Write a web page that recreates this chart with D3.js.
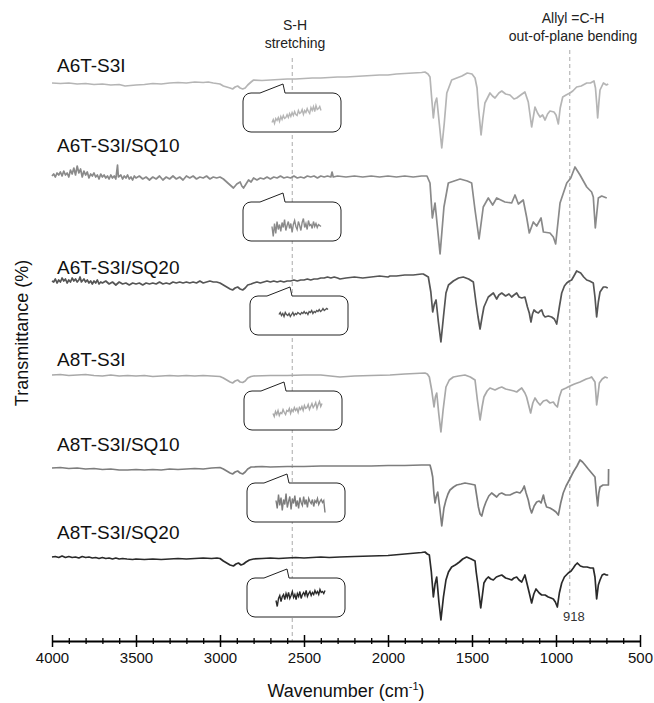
<!DOCTYPE html>
<html>
<head>
<meta charset="utf-8">
<script src="https://cdn.jsdelivr.net/npm/d3@7"></script>
<style>
  body { margin: 0; background: #fff; }
  text { font-family: "Liberation Sans", Arial, sans-serif; }
</style>
</head>
<body>
<div id="chart"></div>
<script>
// ---- data (wavenumber cm-1, relative transmittance) ----
var seriesNames = ["A6T-S3I", "A6T-S3I/SQ10", "A6T-S3I/SQ20", "A8T-S3I", "A8T-S3I/SQ10", "A8T-S3I/SQ20"];
var seriesColors = ["#b5b5b5", "#8a8a8a", "#555555", "#a9a9a9", "#7d7d7d", "#2a2a2a"];
// vertical stacking offsets of each spectrum
var seriesOffsets = [498, 406, 299, 206, 113, 24];

var a6t = [[4000,60],[3950,59.5],[3900,60],[3850,59],[3800,59.5],[3750,58.5],[3700,59],[3650,58],[3600,58.5],[3565,57],[3500,58],[3450,58.5],[3400,59.5],[3350,59],[3300,60],[3250,60.5],[3200,60],[3150,61],[3100,60.5],[3070,61],[3040,60],[3000,59],[2980,57],[2960,56],[2940,55],[2925,54],[2910,56],[2895,57],[2880,55],[2865,54],[2850,55],[2835,58],[2815,61],[2800,63],[2750,62.5],[2700,63],[2650,63.5],[2600,64],[2550,64],[2500,64.5],[2450,65],[2400,65],[2350,65.5],[2300,66],[2250,66],[2200,66.5],[2150,67],[2100,67.5],[2050,68],[2000,68],[1950,69],[1900,69.5],[1850,70],[1800,70.5],[1780,71],[1762,69],[1750,66],[1740,45],[1730,25],[1720,40],[1710,45],[1695,20],[1680,-5],[1665,20],[1650,50],[1621,63],[1591,65],[1560,67],[1528,70],[1500,69],[1482,65],[1470,55],[1462,36],[1446,8],[1435,25],[1423,40],[1393,50],[1378,47],[1363,45],[1340,50],[1323,52],[1300,49],[1274,48],[1250,44],[1234,45],[1210,48],[1185,51],[1165,41],[1145,16],[1125,36],[1110,30],[1095,26],[1080,28],[1065,23],[1050,29],[1036,32],[1012,31],[1000,28],[986,19],[975,35],[960,46],[940,48],[917,50],[900,52],[877,56],[850,57],[817,60],[795,60],[774,62],[765,55],[758,40],[752,25],[745,40],[738,53],[718,60],[700,58],[689,59]];

var a6tSq10 = [[4000,59],[3990,61],[3980,58],[3970,62],[3960,60],[3950,63],[3940,59],[3930,64],[3920,60],[3910,62],[3900,58],[3890,65],[3880,61],[3870,67],[3860,60],[3850,69],[3840,62],[3830,66],[3820,58],[3810,64],[3800,60],[3790,63],[3780,57],[3770,61],[3760,59],[3750,62],[3740,58],[3730,60],[3720,56],[3710,61],[3700,58],[3690,60],[3680,57],[3670,59],[3660,56],[3650,60],[3640,57],[3630,59],[3620,56],[3610,70],[3605,58],[3590,60],[3580,56],[3570,59],[3560,57],[3550,60],[3540,56],[3530,58],[3520,55],[3510,59],[3500,57],[3480,59],[3460,56],[3440,58],[3420,55],[3400,58],[3380,56],[3360,59],[3340,55],[3320,58],[3300,56],[3280,59],[3260,56],[3240,58],[3220,55],[3200,59],[3180,57],[3160,59],[3140,56],[3120,58],[3100,57],[3080,59],[3060,56],[3040,58],[3020,57],[3000,58],[2980,56],[2960,53],[2940,50],[2920,47],[2900,51],[2880,53],[2870,49],[2860,47],[2845,51],[2830,55],[2815,53],[2800,57],[2780,55],[2760,57],[2740,56],[2720,58],[2700,56],[2680,58],[2660,57],[2640,59],[2620,57],[2600,58],[2580,57],[2560,59],[2540,57],[2520,58],[2500,57],[2480,59],[2460,58],[2440,59],[2420,57],[2400,59],[2380,58],[2360,59],[2340,58],[2333,63],[2326,58],[2300,59],[2250,58],[2200,59],[2150,58],[2100,59],[2050,58],[2000,59],[1950,58],[1900,59],[1850,58],[1800,59],[1768,59],[1750,52],[1736,17],[1720,32],[1690,-19],[1667,28],[1641,52],[1571,56],[1528,54],[1502,52],[1482,25],[1458,-4],[1433,28],[1403,37],[1377,30],[1353,37],[1304,33],[1264,32],[1244,40],[1224,31],[1195,35],[1175,18],[1159,2],[1135,13],[1115,9],[1089,17],[1075,3],[1036,2],[1016,-2],[1002,-9],[976,32],[936,52],[912,57],[887,68],[857,60],[817,48],[788,43],[778,38],[766,7],[748,37],[728,39],[698,37]];

var a6tSq20 = [[4000,61],[3990,60],[3980,63],[3970,59],[3960,62],[3950,60],[3940,64],[3930,61],[3920,63],[3910,59],[3900,62],[3890,60],[3880,64],[3870,61],[3860,63],[3850,60],[3840,62],[3833,65],[3825,60],[3810,63],[3800,60],[3790,62],[3780,59],[3770,61],[3760,58],[3750,61],[3740,59],[3730,62],[3720,58],[3710,60],[3700,59],[3680,61],[3660,58],[3640,60],[3620,57],[3600,60],[3580,58],[3560,59],[3540,57],[3520,59],[3500,58],[3480,59],[3460,57],[3440,59],[3420,58],[3400,59],[3380,58],[3360,60],[3340,58],[3320,59],[3300,58],[3280,60],[3260,59],[3240,60],[3220,59],[3200,60],[3180,59],[3160,60],[3140,59],[3120,61],[3100,59],[3080,60],[3060,61],[3040,60],[3020,60],[3000,59],[2980,57],[2960,55],[2940,53],[2925,52],[2910,54],[2895,55],[2880,53],[2865,52],[2850,54],[2835,57],[2815,58],[2800,59],[2780,60],[2760,59],[2740,60],[2720,61],[2700,60],[2680,61],[2660,60],[2640,61],[2620,60],[2600,61],[2580,61],[2560,62],[2540,61],[2520,62],[2500,62],[2480,63],[2460,62],[2440,63],[2420,63],[2400,64],[2380,64],[2360,65],[2340,64],[2320,65],[2300,64],[2286,63],[2250,64],[2200,65],[2150,64],[2100,65],[2050,66],[2000,65],[1988,66],[1950,66],[1900,67],[1850,67],[1800,68],[1790,68],[1760,65],[1745,50],[1734,30],[1724,38],[1714,42],[1700,20],[1685,0],[1670,25],[1655,49],[1640,57],[1611,61],[1580,64],[1552,65],[1520,63],[1492,60],[1476,39],[1464,25],[1452,13],[1440,25],[1429,35],[1403,45],[1388,47],[1373,49],[1353,43],[1340,47],[1323,49],[1300,46],[1280,48],[1264,45],[1250,47],[1234,49],[1220,45],[1204,44],[1185,45],[1170,35],[1159,29],[1149,20],[1140,28],[1131,32],[1118,30],[1105,29],[1095,31],[1085,32],[1075,27],[1065,25],[1046,26],[1026,25],[1010,23],[996,18],[980,35],[966,49],[950,56],[936,59],[920,61],[907,62],[890,67],[877,71],[865,70],[853,69],[835,65],[817,62],[800,61],[778,59],[768,45],[758,25],[748,40],[738,50],[718,55],[705,55],[692,54]];

var a8t = [[4000,60],[3950,60.5],[3900,59.5],[3850,60],[3800,60.5],[3750,59.5],[3700,59],[3650,60],[3600,59],[3550,59.5],[3500,59],[3450,59.5],[3400,58.5],[3350,59],[3300,59.5],[3250,59],[3200,59.5],[3150,59],[3100,59.5],[3050,59],[3000,58.5],[2980,57],[2960,55],[2940,53],[2925,52],[2910,54],[2895,55],[2880,53],[2865,52.5],[2850,54],[2835,57],[2815,58.5],[2800,59],[2700,59.5],[2600,59.5],[2500,60],[2400,60],[2286,58],[2200,59],[2100,59.5],[1988,60],[1900,61],[1780,62],[1766,61],[1754,58],[1740,45],[1726,28],[1718,38],[1710,42],[1697,20],[1685,3],[1672,25],[1655,48],[1635,55],[1611,58],[1580,59],[1542,60],[1510,58],[1482,55],[1468,35],[1452,15],[1440,28],[1429,38],[1410,44],[1393,47],[1378,46],[1363,45],[1340,47],[1323,48],[1300,46],[1274,45],[1250,44],[1234,43],[1220,45],[1204,47],[1185,42],[1175,38],[1163,30],[1151,22],[1138,32],[1125,37],[1110,33],[1095,30],[1075,34],[1056,35],[1036,32],[1016,33],[1004,30],[992,28],[980,38],[966,45],[940,47],[917,49],[890,51],[857,53],[820,56],[800,57],[788,58],[776,55],[768,53],[762,40],[758,30],[750,40],[742,52],[725,56],[708,58],[692,57]];

var a8tSq10 = [[4000,60],[3950,60.5],[3900,59.5],[3850,60],[3800,59],[3750,59.5],[3700,58.5],[3650,59],[3600,58],[3550,58],[3500,58.5],[3450,58],[3400,58.5],[3350,58],[3300,59],[3250,58.5],[3200,59],[3150,59.5],[3100,59],[3050,60],[3000,60.5],[2980,59],[2960,57],[2940,55],[2925,54],[2910,56],[2895,57],[2880,55],[2865,54],[2850,56],[2835,59],[2815,61],[2800,61],[2750,61.5],[2700,61],[2600,61.5],[2500,61.5],[2400,62],[2286,62],[2200,62],[2100,62],[2000,62.5],[1900,62.5],[1800,63],[1750,63],[1742,58],[1734,51],[1727,35],[1720,25],[1712,32],[1704,36],[1692,20],[1680,2],[1667,20],[1655,28],[1643,34],[1631,38],[1610,41],[1591,43],[1565,44],[1542,45],[1510,44],[1482,43],[1470,30],[1462,21],[1452,14],[1442,12],[1430,20],[1417,26],[1400,32],[1383,35],[1368,33],[1353,31],[1338,34],[1323,35],[1300,33],[1274,33],[1250,35],[1234,36],[1214,35],[1200,38],[1189,42],[1178,35],[1165,28],[1155,20],[1145,15],[1130,22],[1115,26],[1100,27],[1089,25],[1075,33],[1066,26],[1056,21],[1036,20],[1016,18],[1000,16],[986,13],[972,25],[957,35],[940,42],[921,48],[897,56],[875,62],[857,68],[842,66],[827,63],[808,59],[788,55],[768,51],[760,35],[752,22],[745,35],[738,41],[720,43],[708,43],[692,43],[688,43],[687,59]];

var a8tSq20 = [[4000,60],[3980,60.5],[3960,59.5],[3940,61],[3920,59.5],[3900,60.5],[3880,59.5],[3860,60],[3840,59],[3820,60.5],[3800,59.5],[3780,60],[3760,59],[3740,59.5],[3720,58.5],[3700,59.5],[3680,58.5],[3660,59],[3640,58],[3620,59],[3600,58],[3580,58.5],[3554,58],[3520,57.5],[3500,58],[3450,57.5],[3400,58],[3350,57.5],[3300,58],[3250,58.5],[3200,58],[3150,58.5],[3100,59],[3050,58.5],[3018,59],[3000,58.5],[2980,56],[2960,54],[2940,52],[2920,51],[2905,53],[2890,54],[2875,52],[2860,53],[2845,55],[2825,57],[2800,58],[2750,58.5],[2700,59],[2650,58.5],[2600,59],[2550,59.5],[2500,59],[2450,59.5],[2400,60],[2350,59.5],[2286,60],[2200,60.5],[2100,61],[2000,61.5],[1900,63],[1800,64.5],[1780,65],[1766,63],[1754,62],[1742,45],[1730,20],[1720,33],[1710,40],[1697,15],[1685,-3],[1670,20],[1655,37],[1640,45],[1621,50],[1600,52],[1591,53],[1575,55],[1555,58],[1532,60],[1505,58],[1482,56],[1475,45],[1466,34],[1448,9],[1438,22],[1429,34],[1415,38],[1403,40],[1388,38],[1373,37],[1355,40],[1340,41],[1323,42],[1300,39],[1280,38],[1264,37],[1250,39],[1234,40],[1220,37],[1204,35],[1185,42],[1172,33],[1159,24],[1145,14],[1132,23],[1119,28],[1100,24],[1085,22],[1065,22],[1046,20],[1030,19],[1016,18],[1004,15],[992,10],[980,24],[966,34],[950,40],[927,44],[910,46],[897,49],[885,52],[873,54],[855,51],[837,50],[815,50],[795,49],[778,49],[768,40],[758,18],[748,32],[738,37],[725,42],[713,43],[700,42],[689,42]];

var spectra = [a6t, a6tSq10, a6tSq20, a8t, a8tSq10, a8tSq20];

// zoomed S-H region (2700-2400 cm-1) shown in each inset
var inset1 = [-10,-7,-11,-6,-8,-5,-9,-4,-7,-3,-6,-5,-2,-5,-1,-4,0,-3,1,-2,-3,2,-1,0,3,-2,2,0,4,1,-1,5,2,6,1,7,3,4,6,2];
var inset2 = [-5,-15,-2,-12,0,-8,-3,-10,-1,-6,2,-9,-4,0,-7,-2,-11,-3,1,-5,-8,0,-4,-9,-1,3,-6,-2,-8,1,-4,-3,-7,0,-5,-2,-6,-3,-4,-5];
var inset3 = [1,3,0,2,-1,3,1,0,2,-1,1,3,0,2,1,3,2,1,3,2,4,2,3,1,4,3,5,2,4,3,5,4,6,4,5,7,5,6,7,6];
var inset4 = [-3,-6,-1,-4,0,-5,-2,-3,1,-2,-4,0,-1,2,-3,1,-1,3,0,2,-2,3,1,4,0,5,2,3,6,1,4,7,3,5,8,2,6,9,4,7];
var inset5 = [2,-6,8,-3,5,-8,3,-2,9,-5,1,6,-7,4,-1,7,-4,2,-6,5,0,-3,6,-2,3,-5,4,1,-1,3,-4,2,0,4,-2,1,3,0,2,-10];
var inset6 = [-3,-9,-1,2,-4,1,3,-2,4,0,5,-1,2,6,0,3,-2,4,1,6,-1,3,5,2,7,1,4,6,2,5,3,7,4,6,3,8,5,6,4,7];
var insets = [inset1, inset2, inset3, inset4, inset5, inset6];

var majorTicks = [4000, 3500, 3000, 2500, 2000, 1500, 1000, 500];
var shWave = 2570;
var allylWave = 918;

// ---- layout ----
var svgWidth = 654;
var svgHeight = 703;
var axisY = 641;

var svg = d3.select("#chart")
  .append("svg")
  .attr("width", svgWidth)
  .attr("height", svgHeight);

var xScale = d3.scaleLinear().domain([4000, 500]).range([52, 640]);
var yScale = d3.scaleLinear().domain([0, 600]).range([axisY, 41]);

// label positions / inset boxes (pixels)
var labelY = [65, 145, 267, 359, 444, 532];
var insetBox = [{x:243,y:93},{x:243,y:202},{x:250,y:296},{x:244,y:391},{x:247,y:483},{x:247,y:578}];
var boxW = 98, boxH = 39, r = 8;

// dashed marker lines
svg.append("line")
  .attr("x1", xScale(shWave)).attr("x2", xScale(shWave))
  .attr("y1", 58).attr("y2", axisY)
  .attr("stroke", "#aaa").attr("stroke-width", 1)
  .attr("stroke-dasharray", "4,3");
svg.append("line")
  .attr("x1", xScale(allylWave)).attr("x2", xScale(allylWave))
  .attr("y1", 50).attr("y2", 605)
  .attr("stroke", "#aaa").attr("stroke-width", 1)
  .attr("stroke-dasharray", "4,3");

spectra.forEach(function(data, i) {
  svg.append("path")
    .datum(data)
    .attr("fill", "none")
    .attr("stroke", seriesColors[i])
    .attr("stroke-width", 1.7)
    .attr("stroke-linejoin", "round")
    .attr("d", d3.line()
      .x(d => xScale(d[0]))
      .y(d => yScale(d[1] + seriesOffsets[i])));

  svg.append("text")
    .attr("x", 57)
    .attr("y", labelY[i] + 7)
    .attr("font-size", "19px")
    .attr("fill", "#111")
    .text(seriesNames[i]);
});

// insets
insets.forEach(function(vals, i) {
  var b = insetBox[i];
  var x = b.x, y = b.y, w = boxW, h = boxH;
  var p = "M" + (x + r) + "," + y +
    " L" + (x + 17) + "," + y +
    " L" + (x + 40) + "," + (y - 9) +
    " L" + (x + 42) + "," + y +
    " L" + (x + w - r) + "," + y +
    " A" + r + "," + r + " 0 0 1 " + (x + w) + "," + (y + r) +
    " L" + (x + w) + "," + (y + h - r) +
    " A" + r + "," + r + " 0 0 1 " + (x + w - r) + "," + (y + h) +
    " L" + (x + r) + "," + (y + h) +
    " A" + r + "," + r + " 0 0 1 " + x + "," + (y + h - r) +
    " L" + x + "," + (y + r) +
    " A" + r + "," + r + " 0 0 1 " + (x + r) + "," + y + " Z";
  svg.append("path")
    .attr("d", p)
    .attr("fill", "#fff")
    .attr("stroke", "#222")
    .attr("stroke-width", 1);

  var cy = y + h / 2;
  var ix = d3.scaleLinear().domain([0, vals.length - 1]).range([x + 29, x + 78]);
  var iy = d3.scaleLinear().domain([-20, 20]).range([cy + 20, cy - 20]);
  svg.append("path")
    .datum(vals)
    .attr("fill", "none")
    .attr("stroke", seriesColors[i])
    .attr("stroke-width", 1.4)
    .attr("d", d3.line().x((d, k) => ix(k)).y(d => iy(d)));
});

// annotations
var ann = svg.append("g").attr("font-size", "14px").attr("fill", "#222").attr("text-anchor", "middle");
ann.append("text").attr("x", 295).attr("y", 30).text("S-H");
ann.append("text").attr("x", 295).attr("y", 48).text("stretching");
ann.append("text").attr("x", 573).attr("y", 23).text("Allyl =C-H");
ann.append("text").attr("x", 573).attr("y", 41).text("out-of-plane bending");
svg.append("text")
  .attr("x", 563).attr("y", 621)
  .attr("font-size", "13px").attr("fill", "#333")
  .text("918");

// x axis
var minorTicks = d3.range(4000, 499, -100).filter(d => d % 500 !== 0);
var minorAxis = d3.axisBottom(xScale).tickValues(minorTicks).tickSize(3).tickSizeOuter(0).tickFormat("");
var gMinor = svg.append("g").attr("transform", `translate(0, ${axisY})`).call(minorAxis);
gMinor.select(".domain").remove();
gMinor.selectAll(".tick line").attr("y1", -3).attr("stroke", "#000").attr("stroke-width", 1.3);

var bottomAxis = d3.axisBottom(xScale).tickValues(majorTicks).tickSize(6).tickSizeOuter(0).tickFormat(d3.format("d"));
var gx = svg.append("g").attr("transform", `translate(0, ${axisY})`).call(bottomAxis);
gx.select(".domain").attr("stroke", "#000").attr("stroke-width", 2);
gx.selectAll(".tick line").attr("y1", -6).attr("stroke", "#000").attr("stroke-width", 1.5);
gx.selectAll(".tick text")
  .attr("y", 11)
  .attr("font-size", "15px")
  .attr("font-family", "Liberation Sans, Arial, sans-serif")
  .attr("fill", "#111");

var xTitle = svg.append("text")
  .attr("x", 346).attr("y", 697)
  .attr("text-anchor", "middle")
  .attr("font-size", "18px")
  .attr("fill", "#111");
xTitle.append("tspan").text("Wavenumber (cm");
xTitle.append("tspan").attr("font-size", "11px").attr("dy", "-7").text("-1");
xTitle.append("tspan").attr("dy", "7").text(")");

svg.append("text")
  .attr("transform", "translate(22, 333) rotate(-90)")
  .attr("text-anchor", "middle")
  .attr("dominant-baseline", "central")
  .attr("font-size", "18px")
  .attr("fill", "#111")
  .text("Transmittance (%)");
</script>
</body>
</html>
